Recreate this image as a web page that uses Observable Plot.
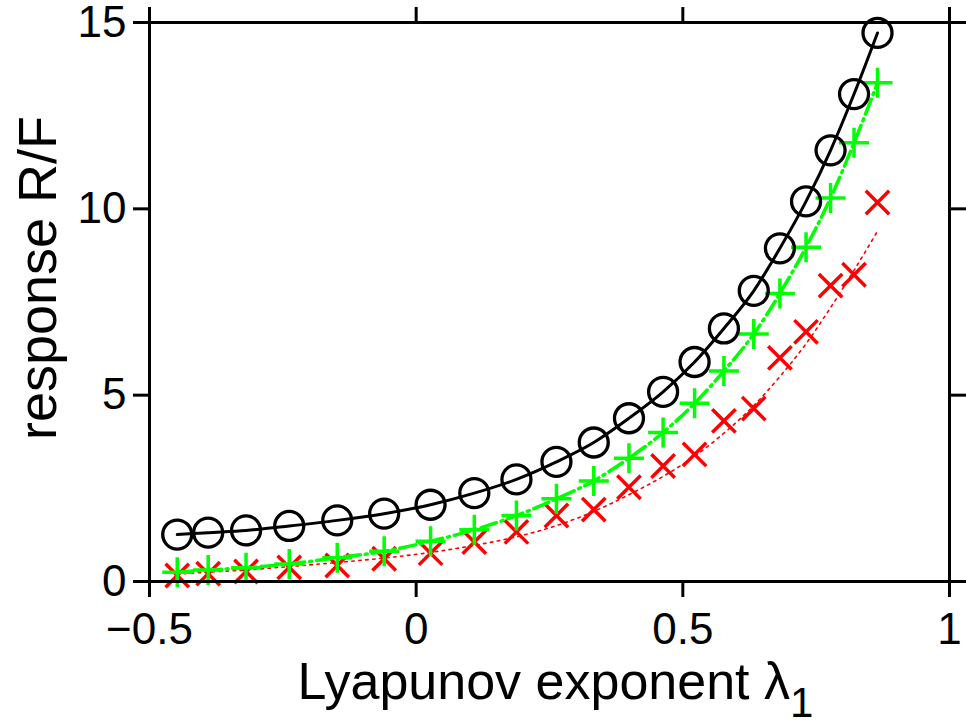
<!DOCTYPE html>
<html><head><meta charset="utf-8">
<script src="https://cdn.jsdelivr.net/npm/d3@7"></script>
<script src="https://cdn.jsdelivr.net/npm/@observablehq/plot@0.6"></script>
<style>
body{margin:0;background:#fff}
svg{font-family:"Liberation Sans",Arial,Helvetica,sans-serif;}
</style>
</head><body><div id="chart"></div>
<script>
// Lyapunov exponent values (shared by all three series)
const lambda = [-0.448,-0.390,-0.319,-0.238,-0.148,-0.060,0.027,0.109,0.188,0.263,0.333,0.399,0.463,0.522,0.577,0.633,0.682,0.731,0.777,0.821,0.865];
// black circles + solid line
const responseCircles = [1.26,1.31,1.37,1.49,1.64,1.82,2.06,2.37,2.74,3.21,3.73,4.38,5.09,5.89,6.79,7.80,8.94,10.20,11.57,13.08,14.72];
// green plus + dashed line
const responsePlus = [0.25,0.31,0.37,0.47,0.64,0.81,1.08,1.39,1.77,2.22,2.70,3.31,4.00,4.78,5.65,6.64,7.73,8.97,10.29,11.77,13.38];
// red crosses
const responseTimes = [0.16,0.21,0.27,0.38,0.43,0.61,0.76,1.06,1.33,1.77,1.93,2.53,3.10,3.41,4.31,4.64,6.00,6.70,7.94,8.23,10.17];
// red dotted curve
const responseDotted = [0.20,0.25,0.31,0.40,0.51,0.63,0.78,0.97,1.20,1.50,1.88,2.33,2.82,3.36,3.98,4.72,5.50,6.38,7.35,8.35,9.40];

const xTicks = [-0.5, 0, 0.5, 1];
const xTickLabels = ["\u22120.5", "0", "0.5", "1"];
const yTicks = [0, 5, 10, 15];
const yTickLabels = ["0", "5", "10", "15"];
const xLabel = "Lyapunov exponent \u03bb";
const xLabelSub = "1";
const yLabel = "response R/F";

const rows = (ys) => lambda.map((x, i) => ({x, y: ys[i]}));
const xFmt = new Map(xTicks.map((t, i) => [t, xTickLabels[i]]));
const yFmt = new Map(yTicks.map((t, i) => [t, yTickLabels[i]]));

const plusSym = {draw(ctx, size){const h = Math.sqrt(size/Math.PI); ctx.moveTo(-h,0); ctx.lineTo(h,0); ctx.moveTo(0,-h); ctx.lineTo(0,h);}};
const timesSym = {draw(ctx, size){const h = Math.sqrt(size/Math.PI); ctx.moveTo(-h,-h); ctx.lineTo(h,h); ctx.moveTo(-h,h); ctx.lineTo(h,-h);}};

const chart = Plot.plot({
  width: 966,
  height: 726,
  marginLeft: 149,
  marginRight: 17,
  marginTop: 22,
  marginBottom: 145,
  style: {background: "#fff", color: "#000", overflow: "visible"},
  x: {domain: [-0.5, 1]},
  y: {domain: [0, 15]},
  marks: [
    Plot.axisX({anchor: "bottom", ticks: xTicks, tickFormat: d => xFmt.get(d), tickSize: 16, tickPadding: 15, strokeWidth: 3, fontSize: 44, label: null}),
    Plot.axisX({anchor: "top", ticks: xTicks, tickFormat: () => "", tickSize: 16, strokeWidth: 3, label: null}),
    Plot.axisY({anchor: "left", ticks: yTicks, tickFormat: d => yFmt.get(d), tickSize: 16, tickPadding: 7, strokeWidth: 3, fontSize: 44, label: null}),
    Plot.axisY({anchor: "right", ticks: yTicks, tickFormat: () => "", tickSize: 16, strokeWidth: 3, label: null}),
    Plot.lineY(rows(responseDotted), {x: "x", y: "y", stroke: "#ff0000", strokeWidth: 1.6, strokeDasharray: "2.5,4.5", curve: "monotone-x"}),
    Plot.dot(rows(responseTimes), {x: "x", y: "y", symbol: timesSym, r: 11.7, stroke: "#ff0000", fill: "none", strokeWidth: 3.5}),
    Plot.lineY(rows(responsePlus), {x: "x", y: "y", stroke: "#00ff00", strokeWidth: 3.5, strokeDasharray: "16,5,2,5", curve: "monotone-x"}),
    Plot.dot(rows(responsePlus), {x: "x", y: "y", symbol: plusSym, r: 15, stroke: "#00ff00", fill: "none", strokeWidth: 3.5}),
    Plot.lineY(rows(responseCircles), {x: "x", y: "y", stroke: "#000", strokeWidth: 3, curve: "monotone-x"}),
    Plot.dot(rows(responseCircles), {x: "x", y: "y", symbol: "circle", r: 14.5, stroke: "#000", fill: "none", strokeWidth: 3.3}),
    Plot.frame({stroke: "#000", strokeWidth: 3}),
    Plot.text([yLabel], {frameAnchor: "left", rotate: -90, dx: -111, dy: -24, fontSize: 54, textAnchor: "middle", lineAnchor: "middle", fill: "#000", letterSpacing: "4px"}),
    Plot.text([xLabel + xLabelSub], {frameAnchor: "bottom-left", dx: 148, dy: 117, fontSize: 52, textAnchor: "start", lineAnchor: "bottom", fill: "#000", letterSpacing: "3px"})
  ]
});

// render the subscript of the x label
d3.select(chart).selectAll("text").filter(function(){ return this.textContent === xLabel + xLabelSub; }).each(function(){
  const t = d3.select(this);
  t.text(null);
  t.append("tspan").text(xLabel);
  t.append("tspan").attr("dy", "0.45em").attr("font-size", "42").text(xLabelSub);
});

document.getElementById("chart").appendChild(chart);
</script>
</body></html>
